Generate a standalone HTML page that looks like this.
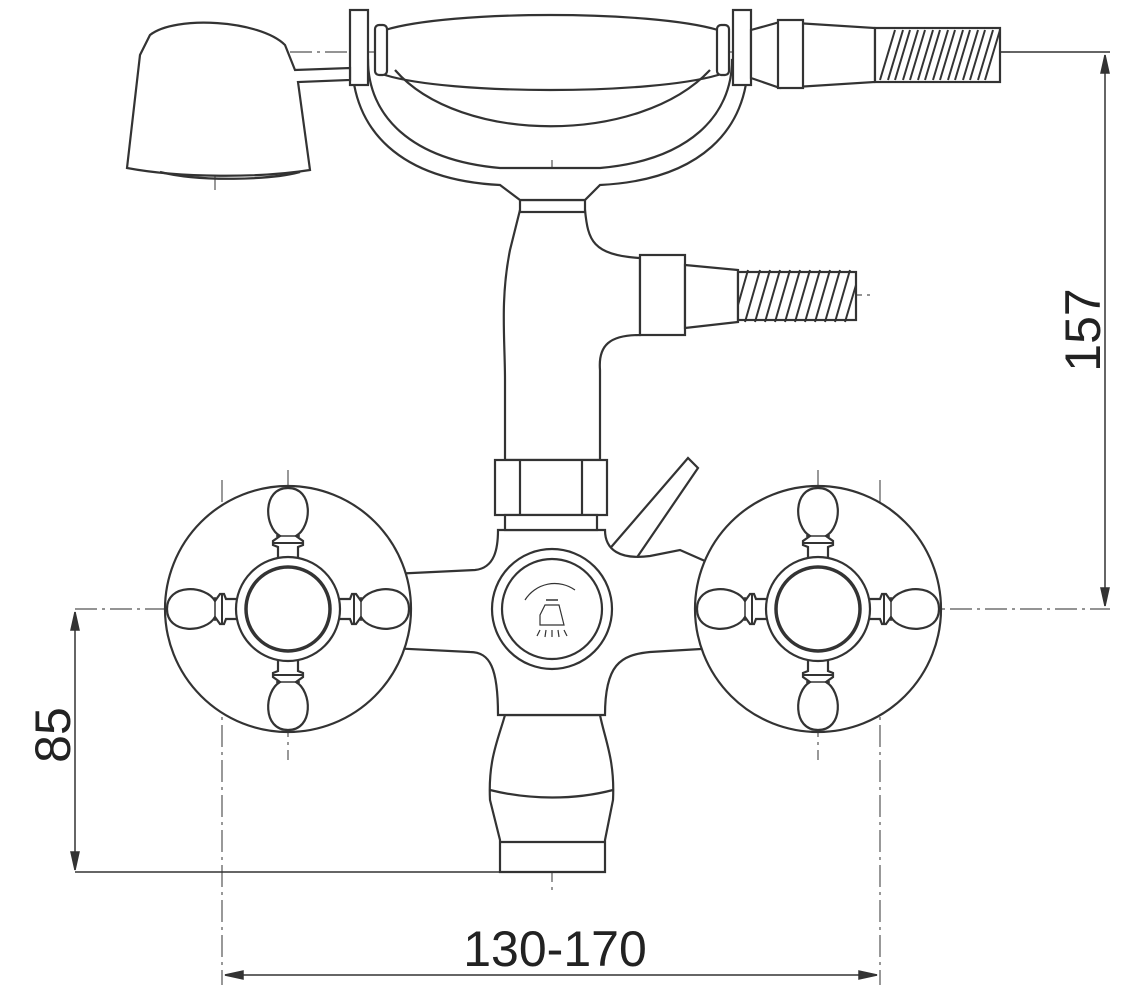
<!DOCTYPE html>
<html><head><meta charset="utf-8"><style>
html,body{margin:0;padding:0;background:#fff;width:1128px;height:1000px;overflow:hidden}
svg{display:block}
text{font-family:"Liberation Sans",sans-serif;fill:#222}
</style></head><body>
<svg width="1128" height="1000" viewBox="0 0 1128 1000" xmlns="http://www.w3.org/2000/svg">
<defs>
<g id="knobV">
  <path d="M-10,-50 L-10,-62 L-15,-64 L-15,-68 L-8,-73 C-24,-82 -26,-121 0,-121 C26,-121 24,-82 8,-73 L15,-68 L15,-64 L10,-62 L10,-50 Z" fill="#fff" stroke="#333" stroke-width="2.2"/>
  <line x1="-15" y1="-66" x2="15" y2="-66" stroke="#333" stroke-width="2"/>
  <line x1="-12" y1="-73" x2="12" y2="-73" stroke="#333" stroke-width="1.5"/>
</g>
<g id="valve">
  <circle cx="0" cy="0" r="123" fill="#fff" stroke="#333" stroke-width="2.2"/>
  <use href="#knobV"/>
  <use href="#knobV" transform="rotate(90)"/>
  <use href="#knobV" transform="rotate(180)"/>
  <use href="#knobV" transform="rotate(270)"/>
  <circle r="52" fill="#fff" stroke="#333" stroke-width="2.2"/>
  <circle r="42" fill="none" stroke="#333" stroke-width="3.5"/>
</g>
</defs>
<g fill="none" stroke="#555" stroke-width="1.2" stroke-dasharray="22,5,3,5">
  <line x1="75" y1="609" x2="1110" y2="609"/>
  <line x1="222" y1="480" x2="222" y2="985"/>
  <line x1="880" y1="480" x2="880" y2="985"/>
  <line x1="288" y1="470" x2="288" y2="760"/>
  <line x1="818" y1="470" x2="818" y2="760"/>
  <line x1="552" y1="160" x2="552" y2="890"/>
  <line x1="255" y1="52" x2="1010" y2="52"/>
  <line x1="215" y1="100" x2="215" y2="190"/>
  <line x1="630" y1="295" x2="870" y2="295"/>
</g>
<g stroke="#333" stroke-width="1.5" fill="#333">
  <line x1="75" y1="872" x2="505" y2="872"/>
  <line x1="75" y1="612" x2="75" y2="870"/>
  <path d="M75,612 l-4,18 h8z M75,870 l-4,-18 h8z"/>
  <line x1="1105" y1="55" x2="1105" y2="606"/>
  <line x1="1000" y1="52" x2="1110" y2="52"/>
  <path d="M1105,55 l-4,18 h8z M1105,606 l-4,-18 h8z"/>
  <line x1="225" y1="975" x2="877" y2="975"/>
  <path d="M225,975 l18,-4 v8z M877,975 l-18,-4 v8z"/>
</g>
<text x="555" y="966" font-size="50" text-anchor="middle">130-170</text>
<text transform="translate(70,735) rotate(-90)" font-size="50" text-anchor="middle">85</text>
<text transform="translate(1100,330) rotate(-90)" font-size="50" text-anchor="middle">157</text>

<g stroke="#333" stroke-width="2.2" fill="#fff">
  <path d="M505,715 L600,715 C605,740 615,760 613,800 L605,840 L605,872 L500,872 L500,840 L490,800 C488,760 498,740 505,715 Z"/>
  <path d="M490,790 C530,800 575,800 613,790" fill="none"/>
  <line x1="500" y1="842" x2="605" y2="842"/>
  <path d="M600,560 L688,458 L698,468 L625,575 Z"/>
  <path d="M330,577 L475,570 C495,568 498,548 498,530 L605,530 C605,550 620,560 650,556 L680,550 L730,572 L770,578 L770,645 L650,652 C620,655 605,665 605,715 L498,715 C498,668 490,652 470,652 L330,645 Z"/>
  <path d="M520,210 L585,210 C588,240 592,255 640,258 L640,335 C610,335 598,345 600,370 L600,460 L505,460 L505,380 C505,340 500,300 510,250 Z"/>
  <rect x="495" y="460" width="112" height="55"/>
  <line x1="520" y1="460" x2="520" y2="515"/><line x1="582" y1="460" x2="582" y2="515"/>
  <rect x="505" y="515" width="92" height="15"/>
  <rect x="520" y="200" width="65" height="12"/>
  <rect x="640" y="255" width="45" height="80"/>
  <path d="M685,265 L738,270 L738,322 L685,328 Z"/>
  <rect x="738" y="272" width="118" height="48" fill="#fff"/>
</g>
<g stroke="#333" stroke-width="2" fill="none">
  <path d="M745,322 L760,270 M765,322 L780,270 M785,322 L800,270 M805,322 L820,270 M825,322 L840,270 M845,322 L856,285"/>
  <path d="M738,305 L748,270 M755,322 L770,270 M775,322 L790,270 M795,322 L810,270 M815,322 L830,270 M835,322 L850,270"/>
</g>
<use href="#valve" x="288" y="609"/>
<use href="#valve" x="818" y="609"/>
<g stroke="#333" stroke-width="2.2" fill="#fff">
  <circle cx="552" cy="609" r="60"/>
  <circle cx="552" cy="609" r="50"/>
  <path d="M525,600 A35,35 0 0 1 575,590" fill="none" stroke-width="1.2"/>
  <path d="M540,615 L545,605 L559,605 L564,625 L540,625 Z" stroke-width="1.2"/>
  <line x1="546" y1="600" x2="558" y2="600" stroke-width="1.5"/>
  <path d="M540,630 l-3,6 M546,630 l-1,7 M552,630 v7 M558,630 l1,7 M564,630 l3,6" stroke-width="1.2"/>
</g>
<g stroke="#333" stroke-width="2.2" fill="#fff">
  <path d="M352,60 C352,130 400,180 500,185 L520,200 L585,200 L600,185 C700,180 748,130 748,60 L732,60 C732,115 690,160 600,168 L500,168 C410,160 368,115 368,60 Z"/>
  <path d="M385,30 C450,10 650,10 718,30 L718,75 C650,95 450,95 385,75 Z"/>
  <path d="M395,70 C460,145 640,145 710,70" fill="none"/>
  <rect x="350" y="10" width="18" height="75"/><rect x="375" y="25" width="12" height="50" rx="4"/>
  <rect x="733" y="10" width="18" height="75"/><rect x="717" y="25" width="12" height="50" rx="4"/>
  <path d="M751,30 L780,22 L875,28 L875,82 L780,88 L751,78 Z"/>
  <rect x="778" y="20" width="25" height="68"/>
  <rect x="875" y="28" width="125" height="54"/>
  <path d="M150,35 C175,15 260,20 285,45 L295,70 L350,68 L350,80 L298,82 L310,170 C260,178 180,178 127,168 L140,55 Z"/>
  <path d="M160,172 C200,182 270,180 300,172" fill="none"/>
</g>
<g stroke="#333" stroke-width="2" fill="none">
  <path d="M880,80 L895,30 M895,80 L910,30 M910,80 L925,30 M925,80 L940,30 M940,80 L955,30 M955,80 L970,30 M970,80 L985,30 M985,80 L1000,30"/>
  <path d="M888,80 L903,30 M903,80 L918,30 M918,80 L933,30 M933,80 L948,30 M948,80 L963,30 M963,80 L978,30 M978,80 L993,30"/>
</g>
</svg>
</body></html>
